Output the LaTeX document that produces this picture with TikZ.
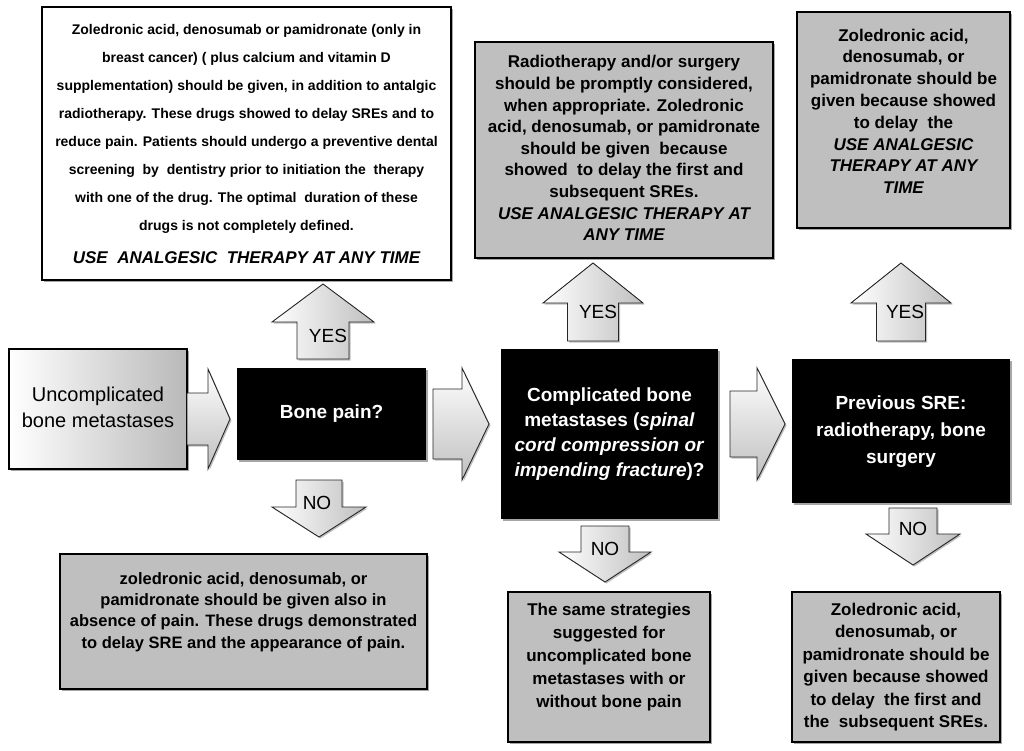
\documentclass[tikz,border=0pt]{standalone}
\usepackage{fontspec}
\setmainfont{Liberation Sans}
\usetikzlibrary{shadows}
\newcommand\boxtxt[3]{{\fontsize{#1}{#2}\selectfont\begin{tabular}{@{}c@{}}#3\end{tabular}}}
% up arrow: cx, ybottom, yheadbase, ytip, shaft half width, head half width
\newcommand\uparr[6]{\draw[arrv] (#1-#5,#2) -- (#1-#5,#3) -- (#1-#6,#3) -- (#1,#4) -- (#1+#6,#3) -- (#1+#5,#3) -- (#1+#5,#2) -- cycle;}
% right arrow: cy, xleft, xheadbase, xtip, shaft half, head half
\newcommand\rtarr[6]{\draw[arrh] (#2,#1-#5) -- (#3,#1-#5) -- (#3,#1-#6) -- (#4,#1) -- (#3,#1+#6) -- (#3,#1+#5) -- (#2,#1+#5) -- cycle;}
\tikzset{
  shad/.style={drop shadow={shadow xshift=2pt,shadow yshift=-2pt,opacity=0.35,fill=black}},
  graybox/.style={rectangle, draw=black, line width=2.5pt, fill=gray!50, inner sep=0pt, shad, font=\bfseries},
  whitebox/.style={graybox, fill=white},
  blackbox/.style={rectangle, fill=black, text=white, inner sep=0pt, shad, font=\bfseries},
  startbox/.style={rectangle, draw=black, line width=2.5pt, left color=white, right color=gray!55, inner sep=0pt, shad},
  arrv/.style={draw=black!85, line width=0.9pt, left color=white, right color=gray!50, drop shadow={shadow xshift=1.5pt,shadow yshift=-1.5pt,opacity=0.25,fill=black}},
  arrh/.style={draw=black!85, line width=0.9pt, top color=white, bottom color=gray!50, drop shadow={shadow xshift=1.5pt,shadow yshift=-1.5pt,opacity=0.25,fill=black}},
  lbl/.style={font=\fontsize{19}{22}\selectfont, inner sep=0pt}
}
\begin{document}
\begin{tikzpicture}[x=1pt,y=-1pt]
\fill[white] (0,0) rectangle (1024,750);
\useasboundingbox (0,0) rectangle (1024,750);

% top boxes
\node[whitebox, minimum width=409pt, minimum height=273pt] (tl) at (246.5,143.5)
 {\boxtxt{14}{28}{Zoledronic acid, denosumab or pamidronate (only in\\
 breast cancer) ( plus calcium and vitamin D\\
 supplementation) should be given, in addition to antalgic\\
 radiotherapy. These drugs showed to delay SREs and to\\
 reduce pain. Patients should undergo a preventive dental\\
 screening\ \ by\ \ dentistry prior to initiation the\ \ therapy\\
 with one of the drug. The optimal\ \ duration of these\\
 drugs is not completely defined.\\[5pt]
 {\fontsize{17}{28}\selectfont\itshape USE\ \ ANALGESIC\ \ THERAPY AT ANY TIME}}};

\node[graybox, minimum width=298pt, minimum height=216pt] (tm) at (624,150)
 {\boxtxt{17}{21.6}{Radiotherapy and/or surgery\\
 should be promptly considered,\\
 when appropriate. Zoledronic\\
 acid, denosumab, or pamidronate\\
 should be given\ \ because\\
 showed\ \ to delay the first and\\
 subsequent SREs.\\
 \itshape USE ANALGESIC THERAPY AT\\
 \itshape ANY TIME}};

\node[graybox, minimum width=213pt, minimum height=216pt] (tr) at (903.5,120)
 {\boxtxt{17}{21.8}{Zoledronic acid,\\
 denosumab, or\\
 pamidronate should be\\
 given because showed\\
 to delay\ \ the\\
 \itshape USE ANALGESIC\\
 \itshape THERAPY AT ANY\\
 \itshape TIME\\[14pt]}};

% middle row
\node[startbox, minimum width=178pt, minimum height=120pt] (unc) at (98,409)
 {\boxtxt{20}{26}{Uncomplicated\\bone metastases}};

\node[blackbox, minimum width=189pt, minimum height=92pt] (bp) at (331.5,414)
 {\boxtxt{19}{24}{Bone pain?}};

\node[blackbox, minimum width=217pt, minimum height=170pt] (cbm) at (609.5,434)
 {\boxtxt{19}{25}{Complicated bone\\
 metastases (\textit{spinal}\\
 \textit{cord compression or}\\
 \textit{impending fracture})?}};

\node[blackbox, minimum width=218pt, minimum height=144pt] (sre) at (901,431)
 {\boxtxt{19}{27}{Previous SRE:\\radiotherapy, bone\\surgery}};

% bottom boxes
\node[graybox, minimum width=367pt, minimum height=135pt] (bl) at (243.5,621.5)
 {\boxtxt{16.5}{21.3}{zoledronic acid, denosumab, or\\
 pamidronate should be given also in\\
 absence of pain. These drugs demonstrated\\
 to delay SRE and the appearance of pain.\\[19pt]}};

\node[graybox, minimum width=202pt, minimum height=150pt] (bm) at (609,667)
 {\boxtxt{17}{23}{The same strategies\\
 suggested for\\
 uncomplicated bone\\
 metastases with or\\
 without bone pain\\[20pt]}};

\node[graybox, minimum width=208pt, minimum height=150pt] (br) at (896,667)
 {\boxtxt{17}{22.5}{Zoledronic acid,\\
 denosumab, or\\
 pamidronate should be\\
 given because showed\\
 to delay\ \ the first and\\
 the\ \ subsequent SREs.}};

% right arrows
\rtarr{419}{187}{208}{230}{26}{50}
\rtarr{424}{433}{462}{489}{35}{56}
\rtarr{424}{730}{757}{785}{33}{56}

% up arrows (YES)
\uparr{323}{359}{322}{284}{26}{51}
\uparr{593}{341}{303}{263}{25.5}{50}
\uparr{901}{341}{303}{263}{24.5}{50}

% down arrows (NO)
\uparr{319}{480}{507}{537}{23}{47}
\uparr{605}{526}{552}{582}{24}{46}
\uparr{913}{508}{534}{565}{24}{47}

\node[lbl] (yes1) at (328,336) {YES};
\node[lbl] (yes2) at (598,312) {YES};
\node[lbl] (yes3) at (905,312) {YES};
\node[lbl] (no1) at (317,503) {NO};
\node[lbl] (no2) at (605,549) {NO};
\node[lbl] (no3) at (913,529) {NO};
\end{tikzpicture}
\end{document}
